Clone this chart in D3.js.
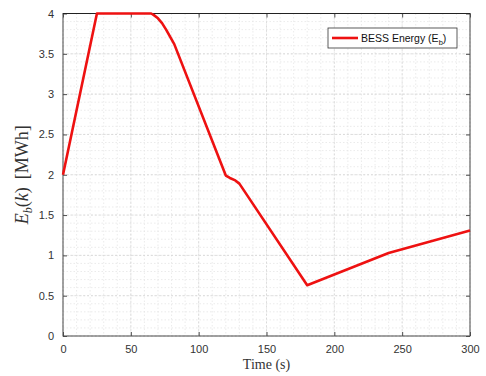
<!DOCTYPE html>
<html>
<head>
<meta charset="utf-8">
<script src="https://cdn.jsdelivr.net/npm/d3@7"></script>
<style>
  body { margin: 0; background: #fff; }
  svg { display: block; }
</style>
</head>
<body>
<svg id="chart" width="486" height="376"></svg>
<script>
// values
const timeS = [0, 25, 65, 67, 70, 73, 76, 79, 82, 120, 123, 127, 130, 180, 240, 300];
const energyMWh = [2, 4, 4, 3.98, 3.94, 3.88, 3.8, 3.71, 3.62, 1.99, 1.96, 1.93, 1.89, 0.63, 1.03, 1.31];
const xTicks = [0, 50, 100, 150, 200, 250, 300];
const yTicks = [0, 0.5, 1, 1.5, 2, 2.5, 3, 3.5, 4];
const seriesName = 'BESS Energy (E';

const svg = d3.select('#chart');
const margin = { top: 13.5, right: 16, bottom: 40, left: 63 };
const width = 486 - margin.left - margin.right;
const height = 376 - margin.top - margin.bottom;

const x = d3.scaleLinear().domain([0, 300]).range([0, width]);
const y = d3.scaleLinear().domain([0, 4]).range([height, 0]);

const g = svg.append('g')
  .attr('transform', 'translate(' + margin.left + ',' + margin.top + ')');

// minor grid
g.append('g').selectAll('line')
  .data(d3.range(0, 301, 10))
  .enter().append('line')
  .attr('x1', d => x(d)).attr('x2', d => x(d))
  .attr('y1', 0).attr('y2', height)
  .attr('stroke', '#e3e3e3').attr('stroke-width', 0.7)
  .attr('stroke-dasharray', '1.5,2');
g.append('g').selectAll('line')
  .data(d3.range(0, 41, 1).map(d => d / 10))
  .enter().append('line')
  .attr('y1', d => y(d)).attr('y2', d => y(d))
  .attr('x1', 0).attr('x2', width)
  .attr('stroke', '#e3e3e3').attr('stroke-width', 0.7)
  .attr('stroke-dasharray', '1.5,2');

// major grid
g.append('g').selectAll('line')
  .data(xTicks)
  .enter().append('line')
  .attr('x1', d => x(d)).attr('x2', d => x(d))
  .attr('y1', 0).attr('y2', height)
  .attr('stroke', '#d6d6d6').attr('stroke-width', 0.8)
  .attr('stroke-dasharray', '2,2');
g.append('g').selectAll('line')
  .data(yTicks)
  .enter().append('line')
  .attr('y1', d => y(d)).attr('y2', d => y(d))
  .attr('x1', 0).attr('x2', width)
  .attr('stroke', '#d6d6d6').attr('stroke-width', 0.8)
  .attr('stroke-dasharray', '2,2');

// axes
const axisColor = '#4d4d4d';
function styleAxis(sel) {
  sel.select('.domain').remove();
  sel.selectAll('.tick line').attr('stroke', axisColor);
  sel.selectAll('.tick text')
    .attr('fill', '#333')
    .style('font-family', 'Liberation Sans, Arial, sans-serif')
    .style('font-size', '11px');
}

g.append('g')
  .attr('transform', 'translate(0,' + height + ')')
  .call(d3.axisBottom(x).tickValues(xTicks).tickFormat(d3.format('d')).tickSizeInner(-4).tickPadding(9))
  .call(styleAxis);
g.append('g')
  .call(d3.axisTop(x).tickValues(xTicks).tickSizeInner(-4).tickFormat(''))
  .call(styleAxis);
g.append('g')
  .call(d3.axisLeft(y).tickValues(yTicks).tickFormat(d => d).tickSizeInner(-4).tickPadding(9))
  .call(styleAxis);
g.append('g')
  .attr('transform', 'translate(' + width + ',0)')
  .call(d3.axisRight(y).tickValues(yTicks).tickSizeInner(-4).tickFormat(''))
  .call(styleAxis);

// box
g.append('rect')
  .attr('width', width).attr('height', height)
  .attr('fill', 'none').attr('stroke', axisColor).attr('stroke-width', 1);
g.append('line')
  .attr('x1', 0).attr('x2', width).attr('y1', 0).attr('y2', 0)
  .attr('stroke', '#222').attr('stroke-width', 1);

// series
const data = timeS.map((t, i) => ({ t: t, e: energyMWh[i] }));
const line = d3.line()
  .x(d => x(d.t))
  .y(d => y(d.e));

g.append('path')
  .datum(data)
  .attr('fill', 'none')
  .attr('stroke', '#ee1111')
  .attr('stroke-width', 2.6)
  .attr('stroke-linejoin', 'round')
  .attr('d', line);

// legend
const leg = svg.append('g').attr('transform', 'translate(328,28)');
leg.append('rect')
  .attr('width', 129).attr('height', 20)
  .attr('fill', '#fff').attr('stroke', '#333').attr('stroke-width', 0.8);
leg.append('line')
  .attr('x1', 4).attr('x2', 30).attr('y1', 10).attr('y2', 10)
  .attr('stroke', '#ee1111').attr('stroke-width', 2.6);
const lt = leg.append('text')
  .attr('x', 33).attr('y', 14)
  .attr('fill', '#111')
  .style('font-family', 'Liberation Sans, Arial, sans-serif')
  .style('font-size', '10.5px')
  .text(seriesName);
lt.append('tspan').attr('dy', 3).style('font-size', '7.5px').text('b');
lt.append('tspan').attr('dy', -3).text(')');

// x label
svg.append('text')
  .attr('x', margin.left + width / 2)
  .attr('y', 369)
  .attr('text-anchor', 'middle')
  .attr('fill', '#333')
  .style('font-family', 'Liberation Serif, DejaVu Serif, serif')
  .style('font-size', '14px')
  .text('Time (s)');

// y label
const yl = svg.append('text')
  .attr('transform', 'translate(28,' + (margin.top + height / 2) + ') rotate(-90)')
  .attr('text-anchor', 'middle')
  .attr('fill', '#333')
  .style('font-family', 'Liberation Serif, DejaVu Serif, serif')
  .style('font-size', '18px');
yl.append('tspan').style('font-style', 'italic').text('E');
yl.append('tspan').attr('dy', 4).style('font-size', '12px').style('font-style', 'italic').text('b');
yl.append('tspan').attr('dy', -4).text('(');
yl.append('tspan').style('font-style', 'italic').text('k');
yl.append('tspan').text(')\u2009 [MWh]');
</script>
</body>
</html>
